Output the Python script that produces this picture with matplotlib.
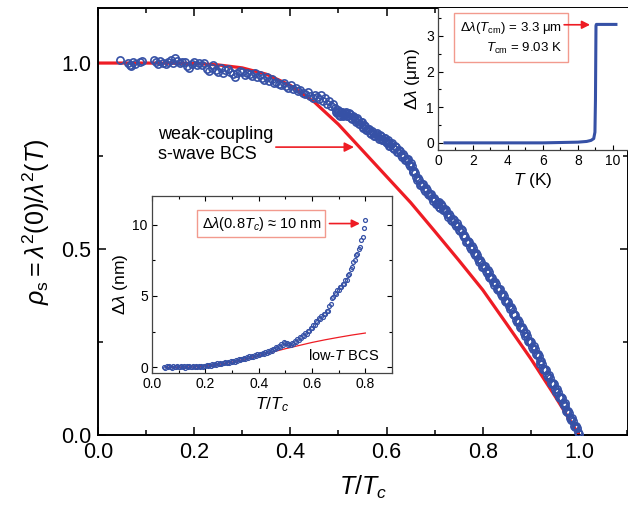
import matplotlib
matplotlib.use("Agg")
import matplotlib.pyplot as plt
from matplotlib.ticker import MultipleLocator

plt.rcParams['font.family'] = ['Liberation Sans', 'DejaVu Sans']
plt.rcParams['mathtext.fontset'] = 'custom'
plt.rcParams['mathtext.rm'] = 'Liberation Sans'
plt.rcParams['mathtext.it'] = 'Liberation Sans:italic'
plt.rcParams['mathtext.bf'] = 'Liberation Sans:bold'

BLUE = '#3651a6'
RED = '#ee1c24'
BOX = '#f29a8e'

# ---------------- main panel data ----------------
bcs_t = [0.0, 0.1, 0.2, 0.25, 0.3, 0.35, 0.4, 0.45, 0.5, 0.55, 0.6, 0.65,
         0.7, 0.75, 0.8, 0.85, 0.9, 0.95, 1.0]
bcs_rho = [1.0, 1.0, 0.999, 0.995, 0.987, 0.970, 0.940, 0.895, 0.835, 0.765,
           0.695, 0.625, 0.548, 0.470, 0.390, 0.298, 0.205, 0.105, 0.0]

# first sweep
data_t = [0.046, 0.062, 0.066, 0.069, 0.072, 0.076, 0.088, 0.092, 0.117, 0.120,
          0.124, 0.128, 0.136, 0.141, 0.146, 0.152, 0.156, 0.161, 0.165, 0.170,
          0.175, 0.181, 0.186, 0.190, 0.195, 0.200, 0.205, 0.210, 0.216, 0.221,
          0.226, 0.231, 0.236, 0.240, 0.245, 0.250, 0.255, 0.260, 0.265, 0.270,
          0.275, 0.280, 0.285, 0.290, 0.295, 0.300, 0.305, 0.310, 0.316, 0.321,
          0.326, 0.331, 0.336, 0.341, 0.346, 0.351, 0.356, 0.361, 0.366, 0.371,
          0.376, 0.381, 0.386, 0.391, 0.396, 0.401, 0.406, 0.411, 0.416, 0.421,
          0.426, 0.431, 0.436, 0.441, 0.446, 0.451, 0.456, 0.460, 0.464, 0.468,
          0.472, 0.476, 0.480, 0.484, 0.488,
          0.492, 0.496, 0.500, 0.504, 0.508, 0.512, 0.516, 0.520, 0.524, 0.528,
          0.532, 0.536, 0.540, 0.544, 0.548, 0.552, 0.556, 0.560, 0.564, 0.568,
          0.572, 0.576, 0.580, 0.584, 0.588, 0.592, 0.596, 0.600, 0.604, 0.608,
          0.612, 0.616, 0.620, 0.624, 0.628, 0.632, 0.636, 0.640, 0.644, 0.648,
          0.652, 0.656, 0.660, 0.664, 0.668, 0.672, 0.676, 0.680, 0.684, 0.688,
          0.692, 0.696, 0.700, 0.704, 0.708, 0.712, 0.716, 0.720, 0.724, 0.728,
          0.732, 0.736, 0.740, 0.744, 0.748, 0.752, 0.756, 0.760, 0.764, 0.768,
          0.772, 0.776, 0.780, 0.784, 0.788, 0.792, 0.796, 0.800, 0.804, 0.808,
          0.812, 0.816, 0.820, 0.824, 0.828, 0.832, 0.836, 0.840, 0.844, 0.848,
          0.852, 0.856, 0.860, 0.864, 0.868, 0.872, 0.876, 0.880, 0.884, 0.888,
          0.892, 0.896, 0.900, 0.904, 0.908, 0.912, 0.916, 0.920, 0.924, 0.928,
          0.932, 0.936, 0.940, 0.944, 0.948, 0.952, 0.956, 0.960, 0.964, 0.968,
          0.972, 0.976, 0.980, 0.984, 0.988, 0.992, 0.996, 1.000]
data_rho = [1.008, 1.000, 0.996, 0.993, 1.002, 0.997, 1.003, 1.006, 1.009, 1.002,
            0.998, 1.005, 1.001, 0.997, 1.004, 1.008, 1.000, 1.014, 1.006, 0.999,
            1.004, 1.002, 0.993, 0.987, 0.998, 1.002, 0.996, 1.001, 0.995, 0.999,
            0.985, 0.978, 0.988, 0.994, 0.981, 0.975, 0.986, 0.973, 0.980, 0.984,
            0.976, 0.970, 0.963, 0.972, 0.979, 0.976, 0.968, 0.974, 0.971, 0.966,
            0.973, 0.963, 0.969, 0.960, 0.955, 0.962, 0.951, 0.958, 0.946, 0.950,
            0.944, 0.940, 0.947, 0.938, 0.934, 0.940, 0.930, 0.934, 0.925, 0.928,
            0.920, 0.916, 0.922, 0.912, 0.906, 0.915, 0.910, 0.902, 0.914, 0.897,
            0.905, 0.890, 0.897, 0.884, 0.889,
            0.880, 0.866, 0.869, 0.858, 0.868, 0.859, 0.868, 0.858, 0.863, 0.850,
            0.855, 0.842, 0.848, 0.836, 0.841, 0.825, 0.830, 0.819, 0.823, 0.808,
            0.813, 0.804, 0.811, 0.797, 0.803, 0.793, 0.798, 0.784, 0.789, 0.778,
            0.784, 0.769, 0.774, 0.761, 0.764, 0.747, 0.751, 0.738, 0.741, 0.723,
            0.723, 0.707, 0.705, 0.685, 0.685, 0.671, 0.674, 0.657, 0.659, 0.645,
            0.647, 0.629, 0.631, 0.620, 0.626, 0.611, 0.615, 0.604, 0.605, 0.587,
            0.590, 0.576, 0.579, 0.561, 0.563, 0.549, 0.550, 0.531, 0.532, 0.518,
            0.520, 0.501, 0.502, 0.485, 0.484, 0.464, 0.465, 0.451, 0.454, 0.436,
            0.437, 0.423, 0.423, 0.404, 0.405, 0.390, 0.392, 0.373, 0.374, 0.358,
            0.358, 0.338, 0.338, 0.322, 0.323, 0.303, 0.303, 0.287, 0.286, 0.266,
            0.266, 0.250, 0.251, 0.231, 0.231, 0.214, 0.213, 0.192, 0.191, 0.175,
            0.175, 0.155, 0.154, 0.138, 0.137, 0.116, 0.116, 0.099, 0.100, 0.080,
            0.079, 0.062, 0.060, 0.039, 0.038, 0.021, 0.019, 0.003]

# second sweep (interleaved, high-T part)
data2_t = [0.494, 0.498, 0.502, 0.506, 0.510, 0.514, 0.518, 0.522, 0.526, 0.530,
           0.534, 0.538, 0.542, 0.546, 0.550, 0.554, 0.558, 0.562, 0.566, 0.570,
           0.574, 0.578, 0.582, 0.586, 0.590, 0.594, 0.598, 0.602, 0.606, 0.610,
           0.614, 0.618, 0.622, 0.626, 0.630, 0.634, 0.638, 0.642, 0.646, 0.650,
           0.654, 0.658, 0.662, 0.666, 0.670, 0.674, 0.678, 0.682, 0.686, 0.690,
           0.694, 0.698, 0.702, 0.706, 0.710, 0.714, 0.718, 0.722, 0.726, 0.730,
           0.734, 0.738, 0.742, 0.746, 0.750, 0.754, 0.758, 0.762, 0.766, 0.770,
           0.774, 0.778, 0.782, 0.786, 0.790, 0.794, 0.798, 0.802, 0.806, 0.810,
           0.814, 0.818, 0.822, 0.826, 0.830, 0.834, 0.838, 0.842, 0.846, 0.850,
           0.854, 0.858, 0.862, 0.866, 0.870, 0.874, 0.878, 0.882, 0.886, 0.890,
           0.894, 0.898, 0.902, 0.906, 0.910, 0.914, 0.918, 0.922, 0.926, 0.930,
           0.934, 0.938, 0.942, 0.946, 0.950, 0.954, 0.958, 0.962, 0.966, 0.970,
           0.974, 0.978, 0.982, 0.986, 0.990, 0.994, 0.998]
data2_rho = [0.869, 0.875, 0.861, 0.869, 0.857, 0.865, 0.858, 0.866, 0.852, 0.857,
             0.847, 0.852, 0.837, 0.841, 0.829, 0.834, 0.819, 0.824, 0.813, 0.817,
             0.803, 0.810, 0.800, 0.807, 0.793, 0.799, 0.789, 0.793, 0.778, 0.783,
             0.772, 0.778, 0.762, 0.766, 0.753, 0.756, 0.739, 0.742, 0.728, 0.730,
             0.710, 0.709, 0.693, 0.692, 0.673, 0.675, 0.661, 0.665, 0.647, 0.649,
             0.636, 0.637, 0.620, 0.625, 0.614, 0.620, 0.604, 0.608, 0.594, 0.595,
             0.578, 0.580, 0.566, 0.569, 0.551, 0.553, 0.538, 0.538, 0.520, 0.521,
             0.506, 0.508, 0.488, 0.488, 0.472, 0.471, 0.453, 0.455, 0.441, 0.443,
             0.425, 0.426, 0.411, 0.411, 0.392, 0.393, 0.378, 0.380, 0.361, 0.361,
             0.346, 0.345, 0.325, 0.325, 0.309, 0.310, 0.290, 0.290, 0.274, 0.273,
             0.253, 0.253, 0.237, 0.238, 0.217, 0.217, 0.200, 0.198, 0.178, 0.177,
             0.161, 0.161, 0.141, 0.141, 0.124, 0.123, 0.102, 0.102, 0.086, 0.086,
             0.065, 0.064, 0.047, 0.045, 0.024, 0.023, 0.008]

# ---------------- inset 1 data (low T) ----------------
low_t = [0.045, 0.050, 0.055, 0.060, 0.065, 0.070, 0.075, 0.080, 0.085, 0.090,
         0.095, 0.100, 0.105, 0.110, 0.115, 0.120, 0.125, 0.130, 0.135, 0.140,
         0.145, 0.150, 0.155, 0.160, 0.165, 0.170, 0.175, 0.180, 0.185, 0.190,
         0.195, 0.200, 0.205, 0.210, 0.215, 0.220, 0.225, 0.230, 0.235, 0.240,
         0.245, 0.250, 0.255, 0.260, 0.265, 0.270, 0.275, 0.280, 0.285, 0.290,
         0.295, 0.300, 0.305, 0.310, 0.315, 0.320, 0.325, 0.330, 0.335, 0.340,
         0.345, 0.350, 0.355, 0.360, 0.365, 0.370, 0.375, 0.380, 0.385, 0.390,
         0.395, 0.400, 0.405, 0.410, 0.415, 0.420, 0.425, 0.430, 0.435, 0.440,
         0.445, 0.450, 0.455, 0.460, 0.465, 0.470, 0.475, 0.480, 0.485, 0.490,
         0.495, 0.500, 0.505, 0.510, 0.515, 0.520, 0.525, 0.530, 0.535, 0.540,
         0.545, 0.550, 0.555, 0.560, 0.565, 0.570, 0.575, 0.580, 0.585, 0.590,
         0.595, 0.600, 0.605, 0.610, 0.615, 0.620, 0.625, 0.630, 0.635, 0.640,
         0.645, 0.650, 0.655, 0.660, 0.665, 0.670, 0.675, 0.680, 0.685, 0.690,
         0.695, 0.700, 0.705, 0.710, 0.715, 0.720, 0.725, 0.730, 0.735, 0.740,
         0.745, 0.750, 0.755, 0.760, 0.765, 0.770, 0.775, 0.780, 0.785, 0.790,
         0.795, 0.800]
low_dl = [0.02, -0.03, 0.06, 0.01, 0.08, 0.02, -0.02, 0.07, 0.03, -0.01,
          0.09, 0.04, 0.00, 0.08, 0.03, 0.10, -0.02, 0.06, 0.02, 0.09,
          0.01, 0.05, 0.10, 0.02, 0.07, 0.00, 0.09, 0.05, 0.12, 0.04,
          0.10, 0.07, 0.15, 0.09, 0.18, 0.12, 0.20, 0.15, 0.23, 0.18,
          0.27, 0.22, 0.30, 0.24, 0.33, 0.28, 0.36, 0.30, 0.38, 0.33,
          0.42, 0.37, 0.45, 0.40, 0.50, 0.46, 0.55, 0.50, 0.60, 0.55,
          0.66, 0.60, 0.70, 0.66, 0.76, 0.70, 0.80, 0.74, 0.84, 0.80,
          0.90, 0.85, 0.96, 0.90, 1.02, 0.96, 1.08, 1.02, 1.14, 1.08,
          1.22, 1.16, 1.30, 1.26, 1.40, 1.35, 1.50, 1.45, 1.62, 1.58,
          1.75, 1.68, 1.72, 1.58, 1.66, 1.55, 1.72, 1.66, 1.84, 1.80,
          1.98, 1.92, 2.10, 2.04, 2.24, 2.18, 2.40, 2.34, 2.55, 2.52,
          2.75, 2.72, 2.98, 2.96, 3.22, 3.20, 3.42, 3.36, 3.58, 3.52,
          3.74, 3.70, 3.95, 3.92, 4.30, 4.40, 4.85, 4.92, 5.18, 5.15,
          5.40, 5.42, 5.62, 5.60, 5.85, 5.84, 6.10, 6.15, 6.45, 6.52,
          6.90, 7.00, 7.40, 7.50, 7.85, 7.95, 8.30, 8.42, 8.90, 9.15,
          9.75, 10.30]
lowbcs_t = [0.05, 0.10, 0.15, 0.20, 0.25, 0.30, 0.35, 0.40, 0.45, 0.50,
            0.55, 0.60, 0.65, 0.70, 0.75, 0.80]
lowbcs_dl = [0.0, 0.0, 0.02, 0.08, 0.2, 0.36, 0.58, 0.82, 1.06, 1.30,
             1.52, 1.74, 1.93, 2.10, 2.26, 2.40]

# ---------------- inset 2 data (full T) ----------------
full_T = [0.4, 2.0, 4.0, 6.0, 7.0, 8.0, 8.5, 8.75, 8.9, 8.97, 9.0, 9.02,
          9.03, 9.05, 9.2, 10.17]
full_dl = [0.0, 0.0, 0.0, 0.0, 0.01, 0.02, 0.04, 0.07, 0.12, 0.3, 1.2, 2.6,
           3.28, 3.32, 3.32, 3.32]

fig = plt.figure(figsize=(6.28, 5.16), dpi=100)
ax = fig.add_axes([98/628, 1-435/516, 530/628, 427/516])

ax.plot(bcs_t, bcs_rho, color=RED, lw=2.3, zorder=2)
mk = dict(ls='none', marker='o', ms=5.2, mfc='none', mec=BLUE, mew=1.2, zorder=3)
ax.plot(data_t, data_rho, **mk)
ax.plot(data2_t, data2_rho, **mk)

ax.set_xlim(0, 1.102)
ax.set_ylim(0, 1.148)
ax.xaxis.set_major_locator(MultipleLocator(0.2))
ax.xaxis.set_minor_locator(MultipleLocator(0.1))
ax.yaxis.set_major_locator(MultipleLocator(0.5))
ax.yaxis.set_minor_locator(MultipleLocator(0.25))
ax.tick_params(which='both', direction='in', top=True, right=True, width=1.1)
ax.tick_params(which='major', length=5.5, labelsize=15.5, pad=5)
ax.tick_params(which='minor', length=3.5)
for s in ax.spines.values():
    s.set_linewidth(1.4)
ax.set_xlabel(r'$T/T_c$', fontsize=18, labelpad=8)
ax.set_ylabel(r'$\rho_{\mathrm{s}} = \lambda^{2}(0)/\lambda^{2}(T)$', fontsize=18,
              labelpad=6)

ax.text(0.125, 0.782, 'weak-coupling\ns-wave BCS', fontsize=13, ha='left',
        va='center', linespacing=1.25)
ax.annotate('', xy=(0.538, 0.774), xytext=(0.364, 0.774),
            arrowprops=dict(arrowstyle='-|>', color=RED, lw=1.2,
                            mutation_scale=14))

# ---------------- inset 1 ----------------
ax1 = fig.add_axes([152/628, 1-373/516, 240/628, 177/516])
ax1.plot(lowbcs_t, lowbcs_dl, color=RED, lw=0.9, zorder=2)
ax1.plot(low_t, low_dl, ls='none', marker='o', ms=2.8, mfc='none', mec=BLUE,
         mew=0.9, zorder=3)
ax1.set_xlim(0, 0.9)
ax1.set_ylim(-0.4, 12)
ax1.xaxis.set_major_locator(MultipleLocator(0.2))
ax1.xaxis.set_minor_locator(MultipleLocator(0.1))
ax1.yaxis.set_major_locator(MultipleLocator(5))
ax1.yaxis.set_minor_locator(MultipleLocator(2.5))
ax1.tick_params(which='both', direction='in', top=True, right=True, width=0.8)
ax1.tick_params(which='major', length=3.5, labelsize=10, pad=3)
ax1.tick_params(which='minor', length=2)
for s in ax1.spines.values():
    s.set_linewidth(0.9)
    s.set_color('#444444')
ax1.set_xlabel(r'$T/T_c$', fontsize=12.5, labelpad=3)
ax1.set_ylabel(r'$\Delta\lambda$ (nm)', fontsize=12.5, labelpad=2)
ax1.text(0.41, 10.07, r'$\Delta\lambda(0.8T_c)$ ≈ 10 nm', fontsize=10.5,
         ha='center', va='center',
         bbox=dict(boxstyle='square,pad=0.3', fc='white', ec=BOX, lw=1.0))
ax1.annotate('', xy=(0.79, 10.07), xytext=(0.655, 10.07),
             arrowprops=dict(arrowstyle='-|>', color=RED, lw=1.2,
                             mutation_scale=12))
ax1.text(0.586, 0.85, r'low-$T$ BCS', fontsize=10.5, ha='left', va='center')

# ---------------- inset 2 ----------------
ax2 = fig.add_axes([438/628, 1-150/516, 190/628, 142/516])
ax2.plot(full_T, full_dl, color=BLUE, lw=2.2)
ax2.set_xlim(0, 10.86)
ax2.set_ylim(-0.2, 3.78)
ax2.xaxis.set_major_locator(MultipleLocator(2))
ax2.xaxis.set_minor_locator(MultipleLocator(1))
ax2.yaxis.set_major_locator(MultipleLocator(1))
ax2.yaxis.set_minor_locator(MultipleLocator(0.5))
ax2.tick_params(which='both', direction='in', width=0.8)
ax2.tick_params(which='major', length=3.5, labelsize=10, pad=3)
ax2.tick_params(which='minor', length=2)
for s in ax2.spines.values():
    s.set_linewidth(0.9)
    s.set_color('#444444')
ax2.spines['top'].set_visible(False)
ax2.spines['right'].set_visible(False)
ax2.set_xlabel(r'$T$ (K)', fontsize=12.5, labelpad=2)
ax2.set_ylabel(r'$\Delta\lambda$ (μm)', fontsize=12.5, labelpad=3)
ax2.text(4.15, 2.94, '$\\Delta\\lambda(T_{\\mathrm{cm}})$ = 3.3 μm\n$T_{\\mathrm{cm}}$ = 9.03 K',
         fontsize=9.5, ha='center', va='center', multialignment='right',
         linespacing=1.5,
         bbox=dict(boxstyle='square,pad=0.45', fc='white', ec=BOX, lw=1.0))
ax2.annotate('', xy=(8.85, 3.31), xytext=(7.05, 3.31),
             arrowprops=dict(arrowstyle='-|>', color=RED, lw=1.2,
                             mutation_scale=12))

fig.savefig('out.png', dpi=100)
